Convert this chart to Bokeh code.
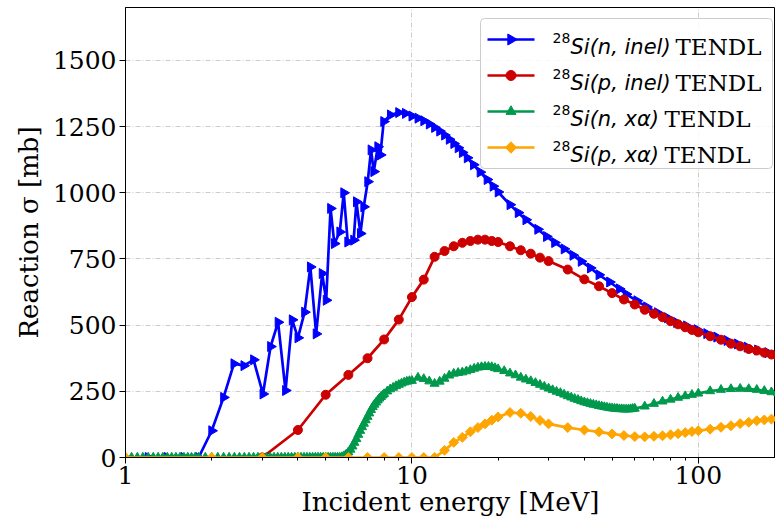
import numpy as np
from bokeh.plotting import figure
from bokeh.models import (Range1d, FixedTicker, BasicTickFormatter, LinearScale,
                          Label, ColumnDataSource)
from bokeh.embed import file_html
from bokeh.resources import INLINE

# ---------------- data ----------------
n_inel_E = [1.0, 1.2, 1.4, 1.6, 1.8,
            2.0, 2.2, 2.39, 2.59, 2.8,
            3.02, 3.21, 3.41, 3.62, 3.82,
            4.0, 4.22, 4.42, 4.63, 4.86,
            5.02, 5.2, 5.36, 5.6, 5.78,
            5.97, 6.26, 6.4, 6.61, 6.79,
            7.01, 7.2, 7.36, 7.6, 7.76,
            7.97, 8.41, 8.99, 9.49, 10,
            10.5, 11, 11.5, 12, 12.5,
            13, 13.5, 14, 14.5, 15,
            15.6, 16.4, 17.3, 18.3, 19.2,
            20, 22, 23.5, 25, 27.5,
            29.5, 31.5, 34, 36.5, 39,
            42, 45, 49, 53, 56,
            61, 66, 72, 78, 84,
            91, 99, 107, 116, 126,
            137, 148, 161, 175, 190,
            200]
n_inel_xs = [0, 0, 0, 0, 0,
             101, 227, 354, 347, 369,
             240, 419, 511, 253, 520,
             452, 549, 720, 467, 695,
             594, 941, 808, 852, 1000,
             814, 821, 966, 846, 947,
             1042, 1162, 1080, 1174, 1143,
             1269, 1294, 1303, 1300, 1290,
             1282, 1272, 1260, 1247, 1233,
             1218, 1202, 1186, 1170, 1152,
             1132, 1106, 1078, 1050, 1025,
             1003, 955, 925, 898, 862,
             835, 812, 788, 764, 741,
             716, 690, 663, 637, 617,
             592, 569, 547, 528, 510,
             497, 483, 468, 455, 442,
             429, 417, 406, 396, 386,
             380]

p_inel_E = [3, 4, 5, 6, 7, 8, 9, 10, 11, 12, 13, 14, 15, 16, 17, 18, 19, 20,
            22, 24, 26, 28, 30,
            35, 40, 45, 50, 55, 60, 65, 70, 75, 80, 85, 90, 95, 100,
            110, 120, 130, 140, 150, 160, 170, 180, 190, 200]
p_inel_xs = [0, 104, 237, 312, 375, 446, 521, 606, 672, 758, 780, 798, 811, 818, 823, 823, 818, 814,
             798, 783, 770, 755, 742,
             710, 673, 647, 621, 597, 578, 558, 543, 530, 515, 503, 492, 482, 473,
             458, 445, 430, 420, 410, 404, 396, 389, 382, 376]

n_xa_E = [1.0, 1.05, 1.1, 1.15, 1.2, 1.25, 1.3, 1.35, 1.4, 1.45, 1.5, 1.55, 1.6, 1.65, 1.7, 1.75, 1.8,
          1.9, 2.0, 2.1, 2.2, 2.3, 2.4, 2.5, 2.6, 2.7, 2.8, 2.9, 3.0, 3.1, 3.2, 3.3, 3.4, 3.5, 3.6, 3.7,
          3.8, 3.9, 4.0, 4.1, 4.2, 4.3, 4.4, 4.5, 4.6, 4.7, 4.8, 4.9, 5.0, 5.1, 5.2, 5.3, 5.4, 5.5,
          5.6, 5.7, 5.8, 5.9, 6.0, 6.1, 6.2, 6.3, 6.4, 6.5, 6.6, 6.7, 6.8, 6.9, 7.0, 7.1, 7.2, 7.3,
          7.4, 7.5, 7.6, 7.7, 7.8, 7.9, 8.0, 8.2, 8.4, 8.6, 8.8, 9.0, 9.2, 9.4, 9.6, 9.8,
          10, 10.5, 11, 11.5, 12, 12.5, 13, 13.5, 14, 14.5, 15, 15.5, 16, 16.5, 17, 17.5, 18, 18.5,
          19, 19.5,
          20, 21, 22, 23, 24, 25, 26, 27, 28, 29, 30, 31, 32, 33, 34, 35, 36, 37, 38, 39, 40,
          41, 42, 43, 44, 45, 46, 47, 48, 49, 50, 51, 52, 53, 54, 55, 56, 57, 58, 59, 60,
          65, 70, 75, 80, 85, 90, 95, 100,
          110, 120, 130, 140, 150, 160, 170, 180, 190, 200]
n_xa_xs = [0, 0, 0, 0, 0, 0, 0, 0, 0, 0, 0, 0, 0, 0, 0, 0, 0,
           0, 0, 0, 0, 0, 0, 0, 0, 0, 0, 0, 0, 0, 0, 0, 0, 0, 0, 0,
           0, 0, 0, 0, 0, 0, 0, 0, 0, 0, 0, 0, 0, 0, 0, 0, 0, 0,
           0, 2, 6, 12, 20, 30, 42, 56, 70, 86, 101, 115, 128, 141, 154, 167, 180, 191,
           200, 208, 216, 223, 229, 235, 240, 250, 258, 264, 270, 275, 280, 284, 287, 289,
           290, 302, 297, 288, 279, 287, 298, 310, 317, 320, 322, 326, 331, 336, 340, 342, 343, 343,
           342, 338,
           334, 327, 318, 311, 302, 295, 289, 282, 275, 268, 261, 255, 249, 244, 238, 232, 227, 222,
           218, 213, 209,
           206, 203, 200, 198, 195, 193, 191, 189, 187, 186, 185, 184, 183, 183, 182, 182, 182, 183,
           184, 185,
           193, 203, 212, 219, 226, 232, 237, 242,
           251, 256, 259, 260, 259, 256, 252, 247, 243, 240]

p_xa_E = [1, 2, 3, 4, 5, 6, 7, 8, 9, 10, 11, 12, 13, 14, 15, 16, 17, 18, 19, 20,
          22, 24, 26, 28, 30,
          35, 40, 45, 50, 55, 60, 65, 70, 75, 80, 85, 90, 95, 100,
          110, 120, 130, 140, 150, 160, 170, 180, 190, 200]
p_xa_xs = [0, 0, 0, 0, 0, 0, 0, 0, 0, 0, 0, 0, 27, 57, 76, 97, 113, 127, 141, 153,
           170, 167, 155, 140, 127,
           113, 104, 97, 89, 83, 79, 78, 80, 82, 86, 90, 94, 98, 101,
           107, 114, 120, 128, 133, 139, 142, 145, 148, 150]

series_names = ["Si(n, inel)", "Si(p, inel)", "Si(n, xα)", "Si(p, xα)"]
series_mass = "28"
series_lib = "TENDL"
x_ticks = [1, 10, 100]
x_minor = [2, 3, 4, 5, 6, 7, 8, 9, 20, 30, 40, 50, 60, 70, 80, 90, 200]
y_ticks = [0, 250, 500, 750, 1000, 1250, 1500]

# ---------------- figure ----------------
SERIF = "DejaVu Serif"
FW, FH = 650, 450  # frame size in px (used for a pixel-space legend)
p = figure(width=775, height=527, x_axis_type="log",
           x_range=Range1d(1, 186), y_range=Range1d(0, 1700),
           output_backend="svg", toolbar_location=None,
           min_border_left=125, min_border_right=0,
           min_border_top=7, min_border_bottom=70)
p.background_fill_color = "white"
p.border_fill_color = "white"
p.outline_line_color = "black"
p.outline_line_width = 1
p.extra_x_ranges = {"px": Range1d(0, FW)}
p.extra_x_scales = {"px": LinearScale()}
p.extra_y_ranges = {"px": Range1d(0, FH)}
p.extra_y_scales = {"px": LinearScale()}

p.xaxis.ticker = FixedTicker(ticks=x_ticks, minor_ticks=x_minor)
p.xaxis.formatter = BasicTickFormatter()
p.yaxis.ticker = FixedTicker(ticks=y_ticks)
for ax in (p.xaxis[0], p.yaxis[0]):
    ax.major_label_text_font = SERIF
    ax.major_label_text_font_size = "25px"
    ax.major_label_text_color = "black"
    ax.axis_label_text_font = SERIF
    ax.axis_label_text_font_size = "26px"
    ax.axis_label_text_font_style = "normal"
    ax.axis_label_text_color = "black"
    ax.axis_line_color = "black"
    ax.major_tick_line_color = "black"
    ax.major_tick_out = 6
    ax.major_tick_in = 0
    ax.minor_tick_out = 3
    ax.minor_tick_in = 0
    ax.minor_tick_line_color = "black"
p.yaxis.minor_tick_line_color = None
p.xaxis.axis_label = "Incident energy [MeV]"
p.yaxis.axis_label = "Reaction σ [mb]"
p.xaxis.major_label_standoff = 2
p.xaxis.axis_label_standoff = 0
p.yaxis.major_label_standoff = 3
p.yaxis.axis_label_standoff = 6

for g in (p.xgrid[0], p.ygrid[0]):
    g.grid_line_color = "#c0c0c0"
    g.grid_line_alpha = 0.8
    g.grid_line_dash = "5 2 1 2"
    g.grid_line_width = 1

LW = 2.7
styles = [
    dict(E=n_inel_E, s=n_inel_xs, color="#0000ff", marker="triangle", angle=-np.pi / 2, size=10),
    dict(E=p_inel_E, s=p_inel_xs, color="#cc0000", marker="circle", angle=0.0, size=9),
    dict(E=n_xa_E, s=n_xa_xs, color="#00994c", marker="triangle", angle=0.0, size=9),
    dict(E=p_xa_E, s=p_xa_xs, color="#ffa500", marker="square", angle=np.pi / 4, size=7),
]
for st in styles:
    src = ColumnDataSource(dict(E=st["E"], s=st["s"]))
    p.line("E", "s", source=src, line_color=st["color"], line_width=LW)
    p.scatter("E", "s", source=src, marker=st["marker"], angle=st["angle"],
              size=st["size"], fill_color=st["color"], line_color=st["color"])

# ---------------- legend (drawn in frame pixel space) ----------------
box_kw = dict(left=355, right=647, bottom=289, top=439, x_range_name="px", y_range_name="px",
              fill_color="white", fill_alpha=0.85, line_color="#cccccc", line_width=1)
try:
    p.quad(border_radius=4, **box_kw)
except Exception:
    p.quad(**box_kw)

row_y = [418, 382, 346, 310]       # row centres, px above frame bottom
sw_x0, sw_x1 = 362, 409            # swatch line ends, px from frame left
for st, yc in zip(styles, row_y):
    p.line([sw_x0, sw_x1], [yc, yc], x_range_name="px", y_range_name="px",
           line_color=st["color"], line_width=LW)
    p.scatter([(sw_x0 + sw_x1) / 2], [yc], x_range_name="px", y_range_name="px",
              marker=st["marker"], angle=st["angle"], size=st["size"] + 1,
              fill_color=st["color"], line_color=st["color"])

base_y = [411, 375, 339, 303]
lib_x = [550, 550, 539, 539]
for i, name in enumerate(series_names):
    p.add_layout(Label(x=427, y=base_y[i] + 9, x_units="screen", y_units="screen",
                       text=series_mass, text_font="DejaVu Sans", text_font_size="14px",
                       text_baseline="alphabetic", text_color="black"))
    p.add_layout(Label(x=445, y=base_y[i], x_units="screen", y_units="screen",
                       text=name, text_font="DejaVu Sans", text_font_style="italic",
                       text_font_size="21px", text_baseline="alphabetic", text_color="black"))
    p.add_layout(Label(x=lib_x[i], y=base_y[i], x_units="screen", y_units="screen",
                       text=series_lib, text_font=SERIF, text_font_size="23px",
                       text_baseline="alphabetic", text_color="black"))

open("out.html", "w").write(file_html(p, INLINE))
